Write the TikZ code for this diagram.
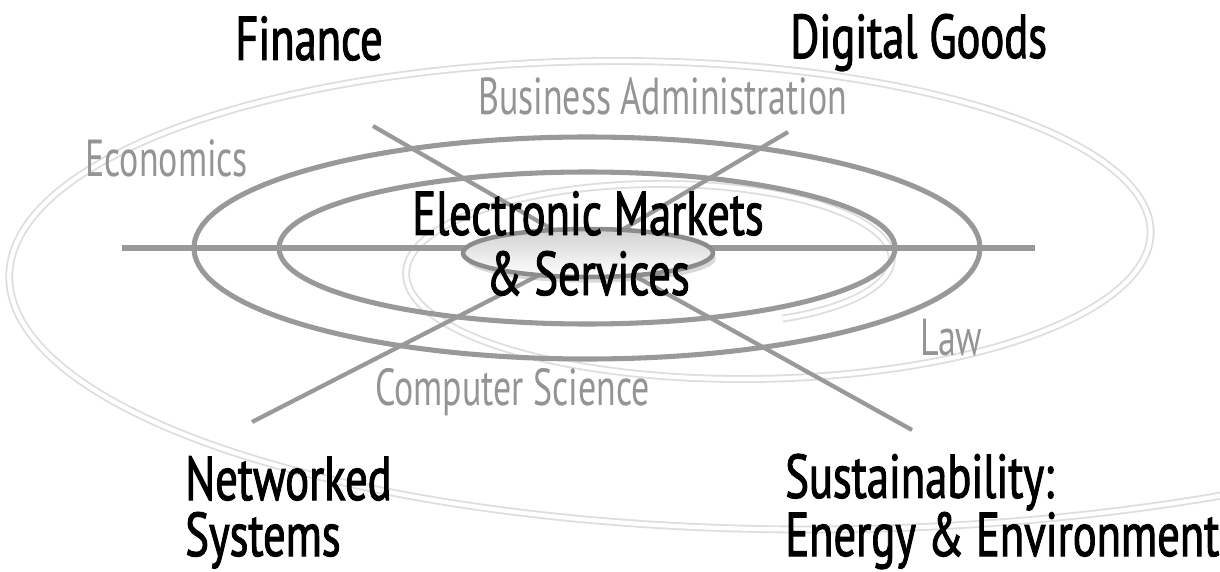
\documentclass[tikz,border=0pt]{standalone}
\usepackage{fontspec}
\setmainfont{PT Sans}[FakeStretch=0.72,FakeBold=1.6]
\newfontfamily\fieldfont{PT Sans}[FakeStretch=0.69]
\usetikzlibrary{shadows}
\begin{document}
\begin{tikzpicture}[x=0.025cm,y=-0.025cm,
    ring/.style={draw=black!40,line width=3.6pt},
    spoke/.style={draw=black!40,line width=3pt},
    spiral/.style={draw=black!13,line width=1.3pt,double=white,double distance=3pt},
    topic/.style={font=\fontsize{44}{39.8}\selectfont,align=left,inner sep=0pt},
    field/.style={font=\fieldfont\fontsize{37}{40}\selectfont,text=black!42,inner sep=0pt}]
  \clip (0,0) rectangle (1220,571);
  \fill[white] (0,0) rectangle (1220,571);
  \draw[spiral] plot[domain=-60:668,samples=300,smooth,variable=\t]
    ({700+190*2.35^(\t/360)*cos(\t)},{268-15*\t/360-64*2.35^(\t/360)*sin(\t)});
  \draw[ring] (587,248) ellipse [x radius=393,y radius=111];
  \draw[ring] (587,248) ellipse [x radius=308,y radius=76];
  \coordinate (hub) at (588,250);
  \coordinate (west) at (122,248);
  \coordinate (east) at (1035,248);
  \foreach \n/\x/\y in {nw/373/126,ne/788/132,sw/252/422,se/912/430}
    \coordinate (\n) at (\x,\y);
  \draw[ring] (west) -- (east);
  \foreach \n in {nw,ne,sw,se}
    \draw[spoke] (hub) -- (\n);
  \draw[draw=black!45,line width=3.2pt,top color=black!18,bottom color=white,
        drop shadow={opacity=0.3,shadow xshift=2pt,shadow yshift=-4pt}]
    (588,253) ellipse [x radius=125,y radius=24];
  \node[topic,anchor=base west] (finance) at (235,60) {Finance};
  \node[topic,anchor=base west] (digital) at (790,58) {Digital Goods};
  \node[field,anchor=base west] (busadm) at (478,115) {Business Administration};
  \node[field,anchor=base west] (econ) at (85,177) {Economics};
  \node[topic,font=\fontsize{44}{42.7}\selectfont,align=center,anchor=base] (ems) at (588,295) {Electronic Markets\\\& Services};
  \node[field,anchor=base west] (law) at (920,355) {Law};
  \node[field,anchor=base west] (compsci) at (375,405) {Computer Science};
  \node[topic,anchor=base west] (netsys) at (185,556) {Networked\\Systems};
  \node[topic,anchor=base west] (sustain) at (785,556) {Sustainability:\\Energy \& Environment};
\end{tikzpicture}
\end{document}
